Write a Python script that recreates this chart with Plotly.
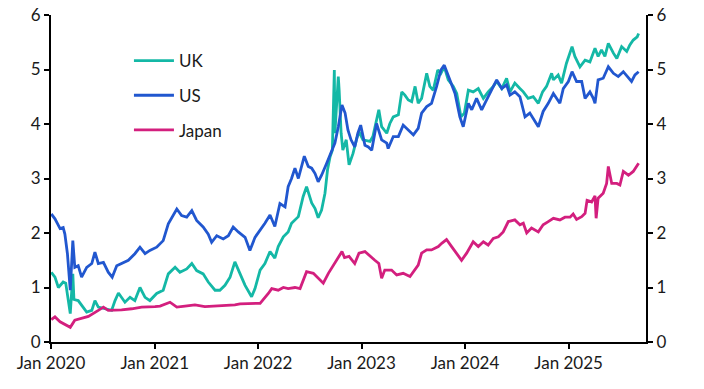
import plotly.graph_objects as go

uk_dates = ["2020-01-02","2020-01-15","2020-01-27","2020-02-13","2020-02-22","2020-03-02","2020-03-09","2020-03-18","2020-03-22",
"2020-04-06","2020-04-24","2020-05-06","2020-05-24","2020-06-04","2020-06-16","2020-07-10","2020-08-02","2020-08-14","2020-08-26",
"2020-09-18","2020-10-06","2020-10-23","2020-11-10","2020-11-28","2020-12-15","2021-01-08","2021-01-31","2021-02-18","2021-03-14",
"2021-03-31","2021-04-24","2021-05-12","2021-05-29","2021-06-21","2021-07-09","2021-08-02","2021-08-19","2021-09-06","2021-09-24",
"2021-10-11","2021-10-29","2021-11-16","2021-12-09","2021-12-21","2022-01-08","2022-01-25","2022-02-12","2022-03-01","2022-03-13",
"2022-03-31","2022-04-17","2022-04-29","2022-05-23","2022-06-09","2022-06-21","2022-07-09","2022-07-21","2022-08-01","2022-08-13",
"2022-08-25","2022-09-03","2022-09-12","2022-09-20","2022-09-27","2022-09-29","2022-10-11","2022-10-14","2022-10-21","2022-10-27",
"2022-11-08","2022-11-18","2022-12-02","2022-12-14","2022-12-23","2023-01-06","2023-01-31","2023-02-10","2023-03-03","2023-03-13",
"2023-03-31","2023-04-11","2023-04-23","2023-05-11","2023-05-23","2023-06-03","2023-06-15","2023-06-27","2023-07-09","2023-07-20",
"2023-08-01","2023-08-19","2023-08-30","2023-09-11","2023-09-27","2023-10-08","2023-10-20","2023-11-03","2023-11-21","2023-12-03",
"2023-12-18","2023-12-30","2024-01-13","2024-01-30","2024-02-17","2024-03-06","2024-03-23","2024-04-10","2024-04-22","2024-05-10",
"2024-05-27","2024-06-08","2024-06-25","2024-07-13","2024-07-25","2024-08-11","2024-08-29","2024-09-16","2024-10-01","2024-10-15",
"2024-11-02","2024-11-08","2024-11-25","2024-12-07","2024-12-24","2025-01-13","2025-01-23","2025-02-10","2025-02-28","2025-03-17",
"2025-04-04","2025-04-15","2025-04-27","2025-05-09","2025-05-21","2025-06-08","2025-06-20","2025-07-07","2025-07-25","2025-08-05",
"2025-08-17","2025-08-31","2025-09-05"]
uk_values = [1.28,1.19,1.00,1.10,1.08,0.80,0.52,1.25,0.78,
0.76,0.64,0.55,0.58,0.76,0.64,0.61,0.58,0.76,0.90,
0.73,0.82,0.76,1.00,0.82,0.76,0.89,0.95,1.25,1.37,
1.28,1.34,1.44,1.31,1.25,1.10,0.95,0.95,1.04,1.19,
1.47,1.25,1.04,0.83,0.98,1.32,1.44,1.66,1.54,1.75,
1.93,2.02,2.18,2.30,2.67,2.85,2.55,2.45,2.28,2.42,
2.73,3.16,3.40,3.52,4.99,3.83,4.87,4.62,3.83,3.52,
3.71,3.25,3.46,3.71,3.86,3.71,3.68,3.77,4.26,3.95,
3.83,4.01,4.13,4.17,4.59,4.53,4.44,4.41,4.69,4.38,
4.47,4.93,4.69,4.62,4.99,4.93,5.05,4.81,4.69,4.56,
4.13,4.20,4.62,4.59,4.65,4.47,4.59,4.69,4.78,4.65,
4.84,4.59,4.75,4.65,4.59,4.47,4.50,4.38,4.59,4.69,
4.93,4.81,4.90,4.75,5.11,5.42,5.24,5.05,5.17,5.14,
5.39,5.24,5.36,5.24,5.48,5.30,5.20,5.42,5.33,5.45,
5.54,5.60,5.66]

us_dates = ["2020-01-02","2020-01-15","2020-02-02","2020-02-13","2020-02-19","2020-02-28","2020-03-09","2020-03-13","2020-03-18",
"2020-03-25","2020-04-06","2020-04-18","2020-05-06","2020-05-24","2020-06-04","2020-06-16","2020-07-04","2020-07-21","2020-08-04",
"2020-08-20","2020-09-06","2020-09-30","2020-10-23","2020-11-10","2020-11-28","2020-12-15","2021-01-08","2021-01-31","2021-02-18",
"2021-03-20","2021-04-06","2021-04-24","2021-05-12","2021-05-29","2021-06-21","2021-07-09","2021-07-21","2021-08-08","2021-08-31",
"2021-09-18","2021-10-05","2021-10-23","2021-11-16","2021-12-03","2021-12-21","2022-01-08","2022-01-25","2022-02-12","2022-03-01",
"2022-03-19","2022-04-06","2022-04-17","2022-04-29","2022-05-11","2022-05-23","2022-06-13","2022-06-27","2022-07-09","2022-07-21",
"2022-08-01","2022-08-13","2022-08-31","2022-09-18","2022-09-29","2022-10-11","2022-10-24","2022-11-04","2022-11-14","2022-11-25",
"2022-12-08","2022-12-19","2022-12-29","2023-01-13","2023-01-25","2023-02-06","2023-02-23","2023-03-13","2023-03-31","2023-04-05",
"2023-04-23","2023-05-11","2023-05-28","2023-06-15","2023-07-03","2023-07-20","2023-08-01","2023-08-19","2023-09-05","2023-09-23",
"2023-10-08","2023-10-20","2023-11-09","2023-11-27","2023-12-14","2023-12-26","2024-01-13","2024-01-25","2024-02-11","2024-02-29",
"2024-03-17","2024-04-04","2024-04-22","2024-05-10","2024-05-27","2024-06-08","2024-06-25","2024-07-13","2024-07-31","2024-08-17",
"2024-09-01","2024-09-16","2024-10-03","2024-10-21","2024-11-08","2024-12-01","2024-12-13","2024-12-31","2025-01-13","2025-01-29",
"2025-02-16","2025-02-28","2025-03-17","2025-03-29","2025-04-04","2025-04-15","2025-05-03","2025-05-21","2025-06-08","2025-06-25",
"2025-07-13","2025-07-31","2025-08-11","2025-08-23","2025-09-05"]
us_values = [2.35,2.26,2.08,2.10,1.98,1.62,0.95,1.45,1.86,
1.37,1.40,1.19,1.37,1.44,1.65,1.44,1.46,1.28,1.19,
1.40,1.44,1.50,1.62,1.74,1.62,1.68,1.74,1.86,2.17,
2.44,2.32,2.29,2.41,2.23,2.11,1.98,1.83,1.95,1.89,
1.95,2.11,2.02,1.92,1.68,1.92,2.05,2.18,2.33,2.12,
2.54,2.48,2.85,3.00,3.19,3.00,3.41,3.22,3.19,3.09,
2.94,3.06,3.28,3.52,3.65,3.95,4.35,4.20,3.89,3.71,
3.58,3.83,3.98,3.61,3.58,3.52,4.01,3.71,3.65,3.55,
3.77,3.77,3.98,3.89,3.80,3.92,4.20,4.32,4.38,4.69,
4.99,5.08,4.81,4.56,4.13,3.95,4.38,4.26,4.47,4.26,
4.44,4.62,4.81,4.65,4.72,4.53,4.59,4.50,4.13,4.20,
4.07,3.95,4.23,4.38,4.56,4.38,4.65,4.78,4.96,4.78,
4.78,4.47,4.59,4.47,4.38,4.81,4.84,5.05,4.93,4.87,
4.96,4.84,4.78,4.90,4.96]

jp_dates = ["2020-01-02","2020-01-15","2020-02-02","2020-02-19","2020-03-09","2020-03-25","2020-04-18","2020-05-12","2020-06-16",
"2020-07-04","2020-07-21","2020-08-08","2020-09-06","2020-10-12","2020-11-16","2021-01-02","2021-01-20","2021-02-24","2021-03-20",
"2021-04-18","2021-05-23","2021-06-27","2021-08-02","2021-09-06","2021-10-11","2021-10-29","2021-12-03","2022-01-08","2022-02-06",
"2022-02-18","2022-03-13","2022-03-31","2022-04-17","2022-05-11","2022-05-29","2022-06-21","2022-07-15","2022-08-01","2022-08-19",
"2022-09-06","2022-09-29","2022-10-24","2022-11-02","2022-11-18","2022-12-08","2022-12-23","2023-01-13","2023-01-31","2023-02-17",
"2023-03-03","2023-03-13","2023-03-24","2023-04-17","2023-05-05","2023-05-28","2023-06-21","2023-07-09","2023-07-20","2023-08-01",
"2023-08-19","2023-09-05","2023-09-29","2023-10-11","2023-10-28","2023-11-15","2023-12-03","2023-12-20","2024-01-07","2024-01-13",
"2024-01-30","2024-02-17","2024-03-06","2024-03-23","2024-04-10","2024-04-28","2024-05-15","2024-06-02","2024-06-25","2024-07-13",
"2024-07-25","2024-08-06","2024-08-23","2024-09-16","2024-10-03","2024-10-21","2024-11-08","2024-12-01","2024-12-19","2025-01-06",
"2025-01-17","2025-01-29","2025-02-16","2025-02-28","2025-03-07","2025-03-23","2025-04-04","2025-04-08","2025-04-15","2025-05-03",
"2025-05-15","2025-05-21","2025-06-02","2025-06-20","2025-07-01","2025-07-13","2025-07-31","2025-08-17","2025-09-05"]
jp_values = [0.41,0.46,0.37,0.32,0.27,0.40,0.43,0.47,0.58,
0.64,0.58,0.58,0.59,0.61,0.64,0.65,0.66,0.73,0.64,
0.66,0.68,0.65,0.66,0.66,0.68,0.70,0.70,0.71,0.89,
0.98,0.95,1.00,0.98,1.00,0.98,1.29,1.26,1.17,1.08,
1.26,1.44,1.66,1.55,1.57,1.44,1.63,1.66,1.57,1.50,
1.44,1.17,1.32,1.32,1.23,1.26,1.20,1.32,1.41,1.63,
1.69,1.69,1.75,1.81,1.88,1.75,1.63,1.50,1.63,1.69,
1.84,1.75,1.84,1.78,1.90,1.93,2.02,2.21,2.24,2.15,
2.18,2.00,2.09,2.02,2.15,2.21,2.27,2.24,2.29,2.29,
2.35,2.25,2.30,2.36,2.60,2.57,2.68,2.27,2.64,2.73,
2.91,3.22,2.91,2.91,2.88,3.13,3.06,3.13,3.28]

series_names = ["UK", "US", "Japan"]
series_colors = ["#14B8A6", "#2157CF", "#D31F7E"]
tick_years = [2020, 2021, 2022, 2023, 2024, 2025]
tick_vals = [f"{y}-01-01" for y in tick_years]
tick_text = [f"Jan {y}" for y in tick_years]
y_ticks = [0, 1, 2, 3, 4, 5, 6]

FONT = "Lato"
fig = go.Figure()
for name, d, v, c in zip(series_names, [uk_dates, us_dates, jp_dates],
                         [uk_values, us_values, jp_values], series_colors):
    fig.add_trace(go.Scatter(x=d, y=v, mode="lines", name=name, legendgroup=name,
                             line=dict(color=c, width=2.8)))
# right-hand axis twin
fig.add_trace(go.Scatter(x=[tick_vals[0]], y=[0], yaxis="y2", mode="lines",
                         showlegend=False, hoverinfo="skip", line=dict(width=0)))

axis_common = dict(showline=True, linecolor="black", linewidth=2, ticks="outside",
                   ticklen=5, tickwidth=2, tickcolor="black", showgrid=False, zeroline=False,
                   automargin=False,
                   tickfont=dict(family=FONT, size=17, color="#1a1a1a"))
fig.update_layout(
    width=704, height=389,
    margin=dict(l=51, r=58, t=15, b=47, autoexpand=False),
    paper_bgcolor="white", plot_bgcolor="white",
    xaxis=dict(type="date", range=["2020-01-01", "2025-10-01"], tickvals=tick_vals,
               ticktext=tick_text, **axis_common),
    yaxis=dict(range=[0, 6], tickvals=y_ticks, **axis_common),
    yaxis2=dict(range=[0, 6], tickvals=y_ticks, overlaying="y", side="right", **axis_common),
    showlegend=True,
    legend=dict(x=0.131, y=0.914, xanchor="left", yanchor="top", bgcolor="rgba(0,0,0,0)",
                font=dict(family=FONT, size=17, color="#1a1a1a"), tracegroupgap=9.5,
                itemwidth=40),
)
fig.write_html("out.html", config={"displayModeBar": False, "staticPlot": True},
               post_script="document.body.style.margin='0';document.body.style.overflow='hidden';")
